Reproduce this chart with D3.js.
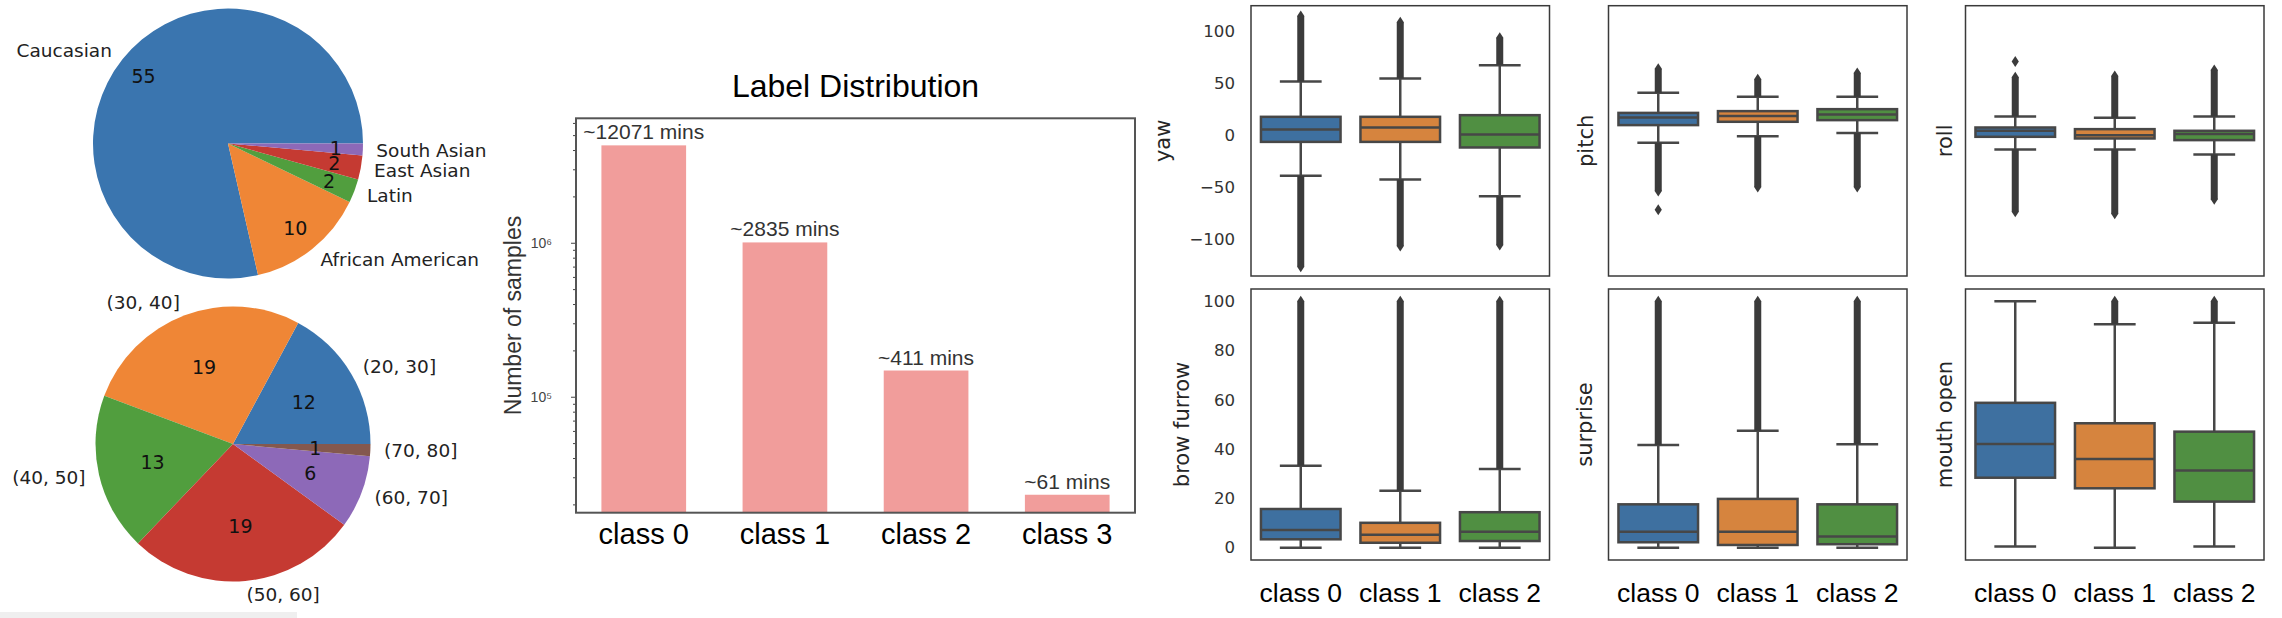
<!DOCTYPE html>
<html>
<head>
<meta charset="utf-8">
<script src="https://cdn.jsdelivr.net/npm/d3@7"></script>
<style>
body { margin: 0; background: #fff; }
svg { display: block; }
</style>
</head>
<body>
<script>
// ---- pies ----
var raceLabels = ["Caucasian", "African American", "Latin", "East Asian", "South Asian"];
var raceCounts = [55, 10, 2, 2, 1];
var ageLabels = ["(20, 30]", "(30, 40]", "(40, 50]", "(50, 60]", "(60, 70]", "(70, 80]"];
var ageCounts = [12, 19, 13, 19, 6, 1];
var pieColors = ["#3a75af", "#ef8636", "#519e3e", "#c53a32", "#8d69b8", "#84584e"];

// ---- label distribution ----
var barClasses = ["class 0", "class 1", "class 2", "class 3"];
var barSamples = [4290000, 1005000, 148000, 23100];
var barMinutes = ["~12071 mins", "~2835 mins", "~411 mins", "~61 mins"];

// ---- box plots ----
// each row: [q1, median, q3, lower whisker, upper whisker, lowest outlier, highest outlier]
var boxClasses = ["class 0", "class 1", "class 2"];
var yaw = [[-6.5, 5.5, 17.7, -39.3, 51.9, -127, 115],
           [-6.5, 7.4, 17.7, -42.8, 54.8, -107, 109],
           [-11.9, 0.6, 19.3, -58.9, 67.6, -106, 94]];
var pitch = [[9.7, 17.1, 21.5, -7.4, 40.9, -54, 64],
             [12.9, 18.4, 23.2, -1, 37, -50, 54],
             [14.5, 20, 25.1, 2.2, 37, -50, 60]];
var roll = [[-1.6, 4.2, 7.4, -13.8, 18, -74, 56],
            [-3.2, 0, 5.8, -13.8, 16.7, -76, 57],
            [-4.8, 1, 4.2, -18.6, 18, -62, 63]];
var browFurrow = [[3.4, 7.2, 15.7, 0, 33.3, null, 100],
                  [2, 5.2, 10.1, 0, 23.1, null, 100],
                  [2.7, 6.5, 14.4, 0, 31.9, null, 100]];
var surprise = [[2.2, 6.5, 17.6, 0, 41.7, null, 100],
                [1.1, 6.5, 19.8, 0, 47.5, null, 100],
                [1.4, 4.5, 17.6, 0, 42, null, 100]];
var mouthOpen = [[28.4, 42.1, 58.8, 0.5, 100, null, null],
                 [24.1, 36, 50.5, 0, 90.7, null, 100],
                 [18.7, 31.3, 47.1, 0.5, 91.3, null, 100]];
// lone outliers away from the dense band
var pitchExtra = [-72, null, null];
var rollExtra = [71, null, null];
var boxColors = ["#3e70a0", "#d6843e", "#508f42"];

var svg = d3.select("body").append("svg")
    .attr("width", 2282)
    .attr("height", 618);

// faint screenshot edge bottom left
svg.append("rect").attr("x", 0).attr("y", 612).attr("width", 297).attr("height", 6).attr("fill", "#efefef");

function drawPie(cx, cy, r, labels, vals, pctDist) {
    var g = svg.append("g").attr("transform", "translate(" + cx + "," + cy + ")");
    // matplotlib style: start at 3 o'clock, counter clockwise
    var pie = d3.pie().sort(null)
        .startAngle(Math.PI / 2)
        .endAngle(Math.PI / 2 - 2 * Math.PI);
    var arcs = pie(vals);
    var arc = d3.arc().innerRadius(0).outerRadius(r);

    g.selectAll("path").data(arcs).enter().append("path")
        .attr("d", arc)
        .attr("fill", function(d, i) { return pieColors[i]; });

    arcs.forEach(function(d, i) {
        var a = (d.startAngle + d.endAngle) / 2;
        var sx = Math.sin(a), sy = -Math.cos(a);
        g.append("text")
            .attr("x", sx * r * pctDist)
            .attr("y", sy * r * pctDist)
            .attr("text-anchor", "middle")
            .attr("dominant-baseline", "central")
            .style("font", "19px 'DejaVu Sans'")
            .attr("fill", "#111")
            .text(vals[i]);
        g.append("text")
            .attr("x", sx * r * 1.1)
            .attr("y", sy * r * 1.1)
            .attr("text-anchor", sx > 0 ? "start" : "end")
            .attr("dominant-baseline", "central")
            .style("font", "18.5px 'DejaVu Sans'")
            .attr("fill", "#222")
            .text(labels[i]);
    });
}

drawPie(228, 143.5, 135, raceLabels, raceCounts, 0.8);
drawPie(233, 444, 137.5, ageLabels, ageCounts, 0.6);

// ---- bar chart ----
var bx0 = 576, bx1 = 1135, by0 = 118.3, by1 = 512.7;
var bx = d3.scaleBand().domain(barClasses).range([bx0, bx1]).paddingInner(0.4).paddingOuter(0.18);
var by = d3.scaleLog().domain([17660, 6.43e6]).range([by1, by0]);

var bar = svg.append("g");
bar.selectAll("rect.bar").data(barSamples).enter().append("rect")
    .attr("class", "bar")
    .attr("x", function(d, i) { return bx(barClasses[i]); })
    .attr("y", function(d) { return by(d); })
    .attr("width", bx.bandwidth())
    .attr("height", function(d) { return by1 - by(d); })
    .attr("fill", "#f19d9b");

bar.selectAll("text.lbl").data(barSamples).enter().append("text")
    .attr("class", "lbl")
    .attr("x", function(d, i) { return bx(barClasses[i]) + bx.bandwidth() / 2; })
    .attr("y", function(d) { return by(d) - 6; })
    .attr("text-anchor", "middle")
    .style("font", "21px 'Liberation Sans', Arial, sans-serif")
    .attr("fill", "#333")
    .text(function(d, i) { return barMinutes[i]; });

var logTicks = by.ticks().filter(function(v) { return v >= 17660 && v <= 6.43e6; });
var majors = logTicks.filter(function(v) { return Math.abs(Math.log10(v) - Math.round(Math.log10(v))) < 1e-9; });
var minors = logTicks.filter(function(v) { return majors.indexOf(v) < 0; });
var sup = {"0": "\u2070", "1": "\u00b9", "2": "\u00b2", "3": "\u00b3", "4": "\u2074", "5": "\u2075", "6": "\u2076", "7": "\u2077"};

var minorAxis = bar.append("g").attr("transform", "translate(" + bx0 + ",0)")
    .call(d3.axisLeft(by).tickValues(minors).tickSize(3).tickFormat(""));
var majorAxis = bar.append("g").attr("transform", "translate(" + bx0 + ",0)")
    .call(d3.axisLeft(by).tickValues(majors).tickSize(5).tickPadding(19)
        .tickFormat(function(v) { return "10" + sup[String(Math.round(Math.log10(v)))]; }));
[minorAxis, majorAxis].forEach(function(a) {
    a.select(".domain").remove();
    a.selectAll("line").attr("stroke", "#444");
    a.selectAll("text").style("font", "14px 'Liberation Sans', Arial, sans-serif").attr("fill", "#444");
});

bar.append("rect")
    .attr("x", bx0).attr("y", by0)
    .attr("width", bx1 - bx0).attr("height", by1 - by0)
    .attr("fill", "none").attr("stroke", "#555").attr("stroke-width", 2);

bar.selectAll("text.xl").data(barClasses).enter().append("text")
    .attr("class", "xl")
    .attr("x", function(d) { return bx(d) + bx.bandwidth() / 2; })
    .attr("y", 543.5)
    .attr("text-anchor", "middle")
    .style("font", "29px 'Liberation Sans', Arial, sans-serif")
    .attr("fill", "#000")
    .text(function(d) { return d; });

bar.append("text")
    .attr("x", (bx0 + bx1) / 2).attr("y", 97)
    .attr("text-anchor", "middle")
    .style("font", "32px 'Liberation Sans', Arial, sans-serif")
    .attr("fill", "#000")
    .text("Label Distribution");

bar.append("text")
    .attr("transform", "translate(521," + ((by0 + by1) / 2) + ") rotate(-90)")
    .attr("text-anchor", "middle")
    .style("font", "23px 'Liberation Sans', Arial, sans-serif")
    .attr("fill", "#333")
    .text("Number of samples");

// ---- box plots ----
var topY = d3.scaleLinear().domain([-136, 125]).range([276, 5.7]);
var botY = d3.scaleLinear().domain([-5, 105]).range([560, 289]);
var cols = [[1251, 1549.5], [1608.5, 1907], [1965.5, 2264]];
var lineCol = "#474747";
var diamond = "M0,-5.5L3.6,0L0,5.5L-3.6,0Z";

var panels = [
    {name: "yaw", data: yaw, col: 0, y: topY, ticks: [-100, -50, 0, 50, 100], off: 81},
    {name: "pitch", data: pitch, col: 1, y: topY, extra: pitchExtra, off: 15.5},
    {name: "roll", data: roll, col: 2, y: topY, extra: rollExtra, off: 14},
    {name: "brow furrow", data: browFurrow, col: 0, y: botY, ticks: [0, 20, 40, 60, 80, 100], off: 62, xl: true},
    {name: "surprise", data: surprise, col: 1, y: botY, off: 17, xl: true},
    {name: "mouth open", data: mouthOpen, col: 2, y: botY, off: 14, xl: true}
];

panels.forEach(function(p) {
    var y = p.y;
    var l = cols[p.col][0], r = cols[p.col][1];
    var t = y.range()[1], b = y.range()[0];
    var x = d3.scaleBand().domain(boxClasses).range([l, r]);
    var bw = x.bandwidth();
    var g = svg.append("g");

    p.data.forEach(function(s, i) {
        var cx = x(boxClasses[i]) + bw / 2;
        var q1 = s[0], med = s[1], q3 = s[2], wlo = s[3], whi = s[4], olo = s[5], ohi = s[6];
        // whiskers
        g.append("line").attr("x1", cx).attr("x2", cx).attr("y1", y(q3)).attr("y2", y(whi))
            .attr("stroke", lineCol).attr("stroke-width", 2.5);
        g.append("line").attr("x1", cx).attr("x2", cx).attr("y1", y(q1)).attr("y2", y(wlo))
            .attr("stroke", lineCol).attr("stroke-width", 2.5);
        [wlo, whi].forEach(function(w) {
            g.append("line").attr("x1", cx - bw * 0.21).attr("x2", cx + bw * 0.21)
                .attr("y1", y(w)).attr("y2", y(w))
                .attr("stroke", lineCol).attr("stroke-width", 2.5);
        });
        // dense outliers
        [[whi, ohi], [wlo, olo]].forEach(function(o) {
            if (o[1] == null) return;
            g.append("line").attr("x1", cx).attr("x2", cx).attr("y1", y(o[0])).attr("y2", y(o[1]))
                .attr("stroke", "#3b3b3b").attr("stroke-width", 7);
            g.append("path").attr("d", diamond)
                .attr("transform", "translate(" + cx + "," + y(o[1]) + ")")
                .attr("fill", "#3b3b3b");
        });
        if (p.extra && p.extra[i] != null) {
            g.append("path").attr("d", diamond)
                .attr("transform", "translate(" + cx + "," + y(p.extra[i]) + ")")
                .attr("fill", "#3b3b3b");
        }
        // box
        g.append("rect")
            .attr("x", cx - bw * 0.4).attr("width", bw * 0.8)
            .attr("y", y(q3)).attr("height", y(q1) - y(q3))
            .attr("fill", boxColors[i])
            .attr("stroke", lineCol).attr("stroke-width", 2.5);
        g.append("line").attr("x1", cx - bw * 0.4).attr("x2", cx + bw * 0.4)
            .attr("y1", y(med)).attr("y2", y(med))
            .attr("stroke", lineCol).attr("stroke-width", 2.5);
    });

    g.append("rect").attr("x", l).attr("y", t).attr("width", r - l).attr("height", b - t)
        .attr("fill", "none").attr("stroke", "#3a3a3a").attr("stroke-width", 1.5);

    if (p.ticks) {
        var ax = g.append("g").attr("transform", "translate(" + l + ",0)")
            .call(d3.axisLeft(y).tickValues(p.ticks).tickSize(0).tickPadding(16));
        ax.select(".domain").remove();
        ax.selectAll("text").style("font", "16.6px 'DejaVu Sans'").attr("fill", "#333");
    }

    g.append("text")
        .attr("transform", "translate(" + (l - p.off) + "," + ((t + b) / 2) + ") rotate(-90)")
        .attr("text-anchor", "middle")
        .style("font", "21px 'DejaVu Sans'")
        .attr("fill", "#262626")
        .text(p.name);

    if (p.xl) {
        g.selectAll("text.xl").data(boxClasses).enter().append("text")
            .attr("class", "xl")
            .attr("x", function(d) { return x(d) + bw / 2; })
            .attr("y", 601.7)
            .attr("text-anchor", "middle")
            .style("font", "26.5px 'Liberation Sans', Arial, sans-serif")
            .attr("fill", "#000")
            .text(function(d) { return d; });
    }
});
</script>
</body>
</html>
